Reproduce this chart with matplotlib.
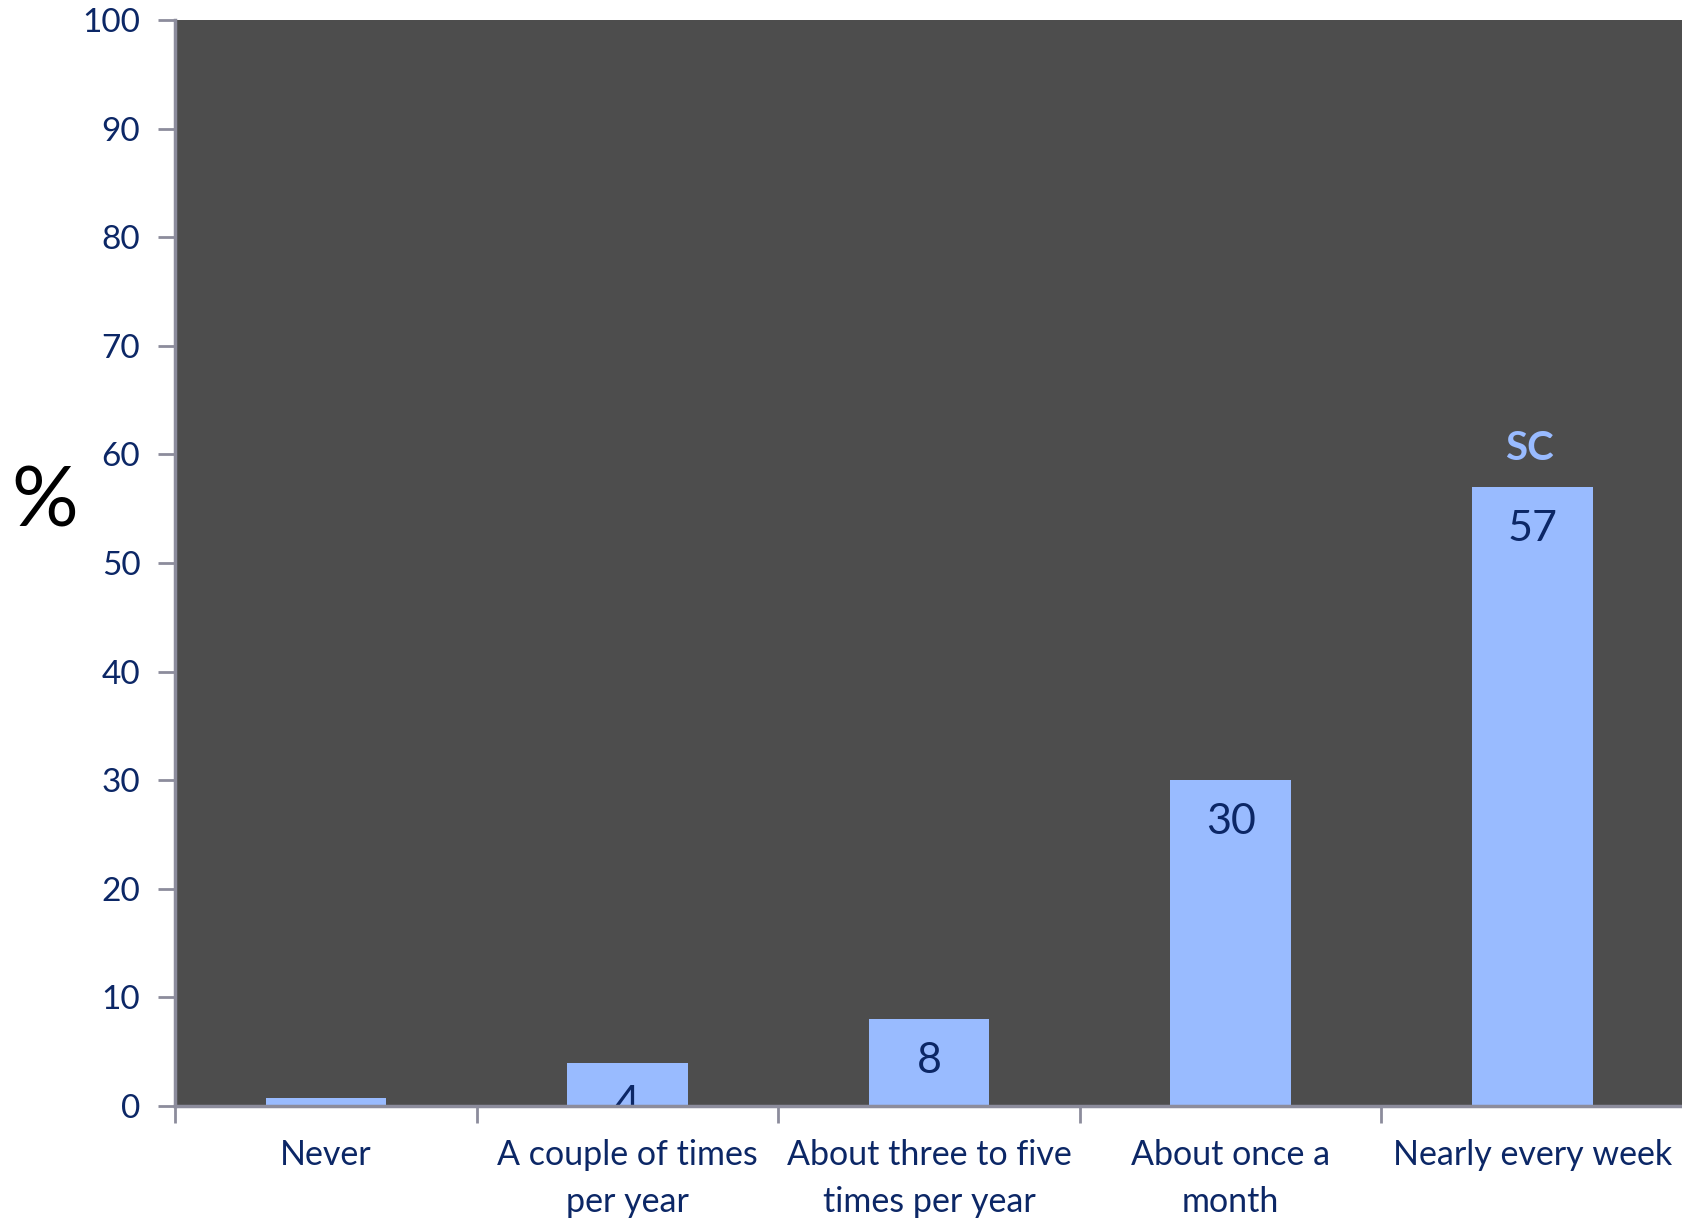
import numpy as np
import matplotlib
matplotlib.use('Agg')
import matplotlib.pyplot as plt

# 数据
categories = ['Never', 'A couple of times\nper year', 'About three to five\ntimes per year',
              'About once a\nmonth', 'Nearly every week']
values = [0.7, 4, 8, 30, 57]
value_labels = ['', '4', '8', '30', '57']
series_name = 'SC'
yticks = np.arange(0, 101, 10)

bg = '#4d4d4d'
bar_color = '#99bbff'
text_color = '#0c2766'
axis_color = '#8c8c9c'

plt.rcParams['font.family'] = ['Lato', 'DejaVu Sans']

fig = plt.figure(figsize=(16.83, 12.18), dpi=100)
ax = fig.add_axes([0.104, 0.092, 0.896, 0.8916])
ax.set_facecolor(bg)

x = np.arange(len(categories))
bars = ax.bar(x, values, width=0.4, color=bar_color, zorder=2)

ax.set_xlim(-0.5, len(categories) - 0.5)
ax.set_ylim(0, 100)
ax.set_yticks(yticks)
ax.set_yticklabels([str(v) for v in yticks], fontsize=24, color=text_color)

# x轴刻度放在类别之间，类别名放在中间
ax.set_xticks(np.arange(len(categories) + 1) - 0.5)
ax.set_xticklabels([])
ax.set_xticks(x, minor=True)
ax.set_xticklabels(categories, minor=True, fontsize=24.5, color=text_color, linespacing=1.58)
ax.tick_params(axis='x', which='minor', length=0, pad=24)
ax.tick_params(axis='x', which='major', length=12, width=2, color=axis_color)
ax.tick_params(axis='y', length=12, width=2, color=axis_color, pad=13)

for s in ['top', 'right']:
    ax.spines[s].set_visible(False)
for s in ['left', 'bottom']:
    ax.spines[s].set_color(axis_color)
    ax.spines[s].set_linewidth(2.5)
    ax.spines[s].set_zorder(3)

# 柱内数值标签
for b, lab in zip(bars, value_labels):
    if not lab:
        continue
    ax.annotate(lab, (b.get_x() + b.get_width() / 2, b.get_height()),
                xytext=(0, -30), textcoords='offset points', ha='center', va='center',
                fontsize=31, color=text_color, annotation_clip=False, clip_on=True, zorder=2.5)

last = bars[-1]
ax.annotate(series_name, (last.get_x() + last.get_width() / 2, last.get_height()),
            xytext=(-2, 28), textcoords='offset points', ha='center', va='center',
            fontsize=29, fontweight='bold', color=bar_color)

fig.text(45 / 1683, 1 - 504 / 1218, '%', fontsize=60, color='black', ha='center', va='center')

fig.savefig('out.png', dpi=100, facecolor='white')
